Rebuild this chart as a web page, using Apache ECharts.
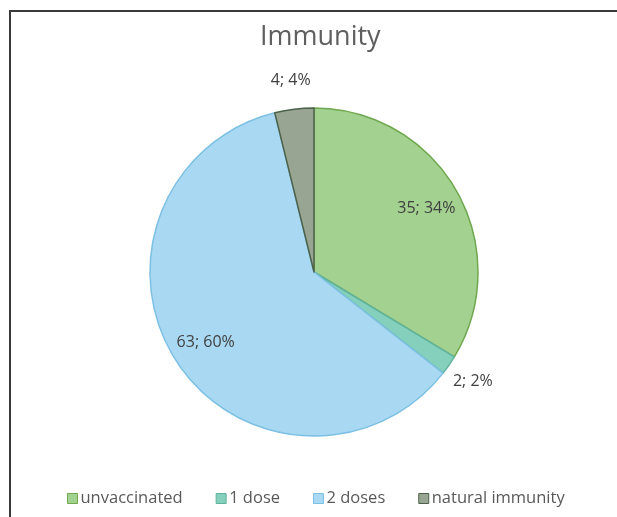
<!DOCTYPE html>
<html>
<head>
<meta charset="utf-8">
<script src="https://cdn.jsdelivr.net/npm/echarts@6/dist/echarts.min.js"></script>
<style>
  html, body { margin: 0; padding: 0; background: #ffffff; }
  #chart { width: 617px; height: 517px; }
</style>
</head>
<body>
<div id="chart"></div>
<script>
// Immunity status of the group
const categories = ['unvaccinated', '1 dose', '2 doses', 'natural immunity'];
const counts = [35, 2, 63, 4];
const percentLabels = ['34%', '2%', '60%', '4%'];
// where each value label sits: inside the slice or just outside it
const labelPlacement = ['in', 'out', 'in', 'out'];

const fillColors = ['#a3d18f', '#84d0bc', '#a9d9f2', '#97a592'];
const edgeColors = ['#6fa84f', '#5fb39c', '#7cc0e3', '#4d624a'];

const FONT = '"Open Sans", "Liberation Sans", sans-serif';
const CENTER = [314, 272];
const R = 164;

function labelText(i) {
  return counts[i] + '; ' + percentLabels[i];
}

// visible slices
const sliceData = categories.map((name, i) => ({
  name: name,
  value: counts[i],
  itemStyle: { color: fillColors[i], borderColor: edgeColors[i], borderWidth: 1.5 }
}));

// invisible rings that only carry the value labels
function labelRing(which) {
  return categories.map((name, i) => ({
    name: name,
    value: counts[i],
    label: { show: labelPlacement[i] === which, formatter: () => labelText(i) }
  }));
}

const labelStyle = {
  position: 'inside',
  color: '#404040',
  fontFamily: FONT,
  fontSize: 16
};

const chart = echarts.init(document.getElementById('chart'), null, { renderer: 'canvas' });
chart.setOption({
  backgroundColor: '#ffffff',
  animation: false,
  title: {
    text: 'Immunity',
    left: 255,
    top: 19,
    textStyle: { color: '#5f5f5f', fontFamily: FONT, fontSize: 27, fontWeight: 'normal' }
  },
  legend: {
    bottom: 5,
    left: 62,
    icon: 'rect',
    itemWidth: 10,
    itemHeight: 10,
    itemGap: 33,
    textStyle: { color: '#595959', fontFamily: FONT, fontSize: 16.5, padding: [0, 0, 0, -2] },
    data: categories.map((name, i) => ({
      name: name,
      itemStyle: { color: fillColors[i], borderColor: edgeColors[i], borderWidth: 1 }
    }))
  },
  graphic: [
    { type: 'line', shape: { x1: 9, y1: 11, x2: 617, y2: 11 }, style: { stroke: '#3a3a3a', lineWidth: 2 } },
    { type: 'line', shape: { x1: 10, y1: 10, x2: 10, y2: 517 }, style: { stroke: '#3a3a3a', lineWidth: 2 } }
  ],
  series: [
    {
      type: 'pie',
      center: CENTER,
      radius: [0, R],
      startAngle: 90,
      clockwise: true,
      silent: true,
      label: { show: false },
      labelLine: { show: false },
      data: sliceData
    },
    {
      type: 'pie',
      center: CENTER,
      radius: [0, 252],
      startAngle: 90,
      clockwise: true,
      silent: true,
      itemStyle: { color: 'rgba(0,0,0,0)' },
      label: labelStyle,
      labelLine: { show: false },
      data: labelRing('in')
    },
    {
      type: 'pie',
      center: CENTER,
      radius: [176, 204],
      startAngle: 90,
      clockwise: true,
      silent: true,
      itemStyle: { color: 'rgba(0,0,0,0)' },
      label: labelStyle,
      labelLine: { show: false },
      data: labelRing('out')
    }
  ]
});
</script>
</body>
</html>
